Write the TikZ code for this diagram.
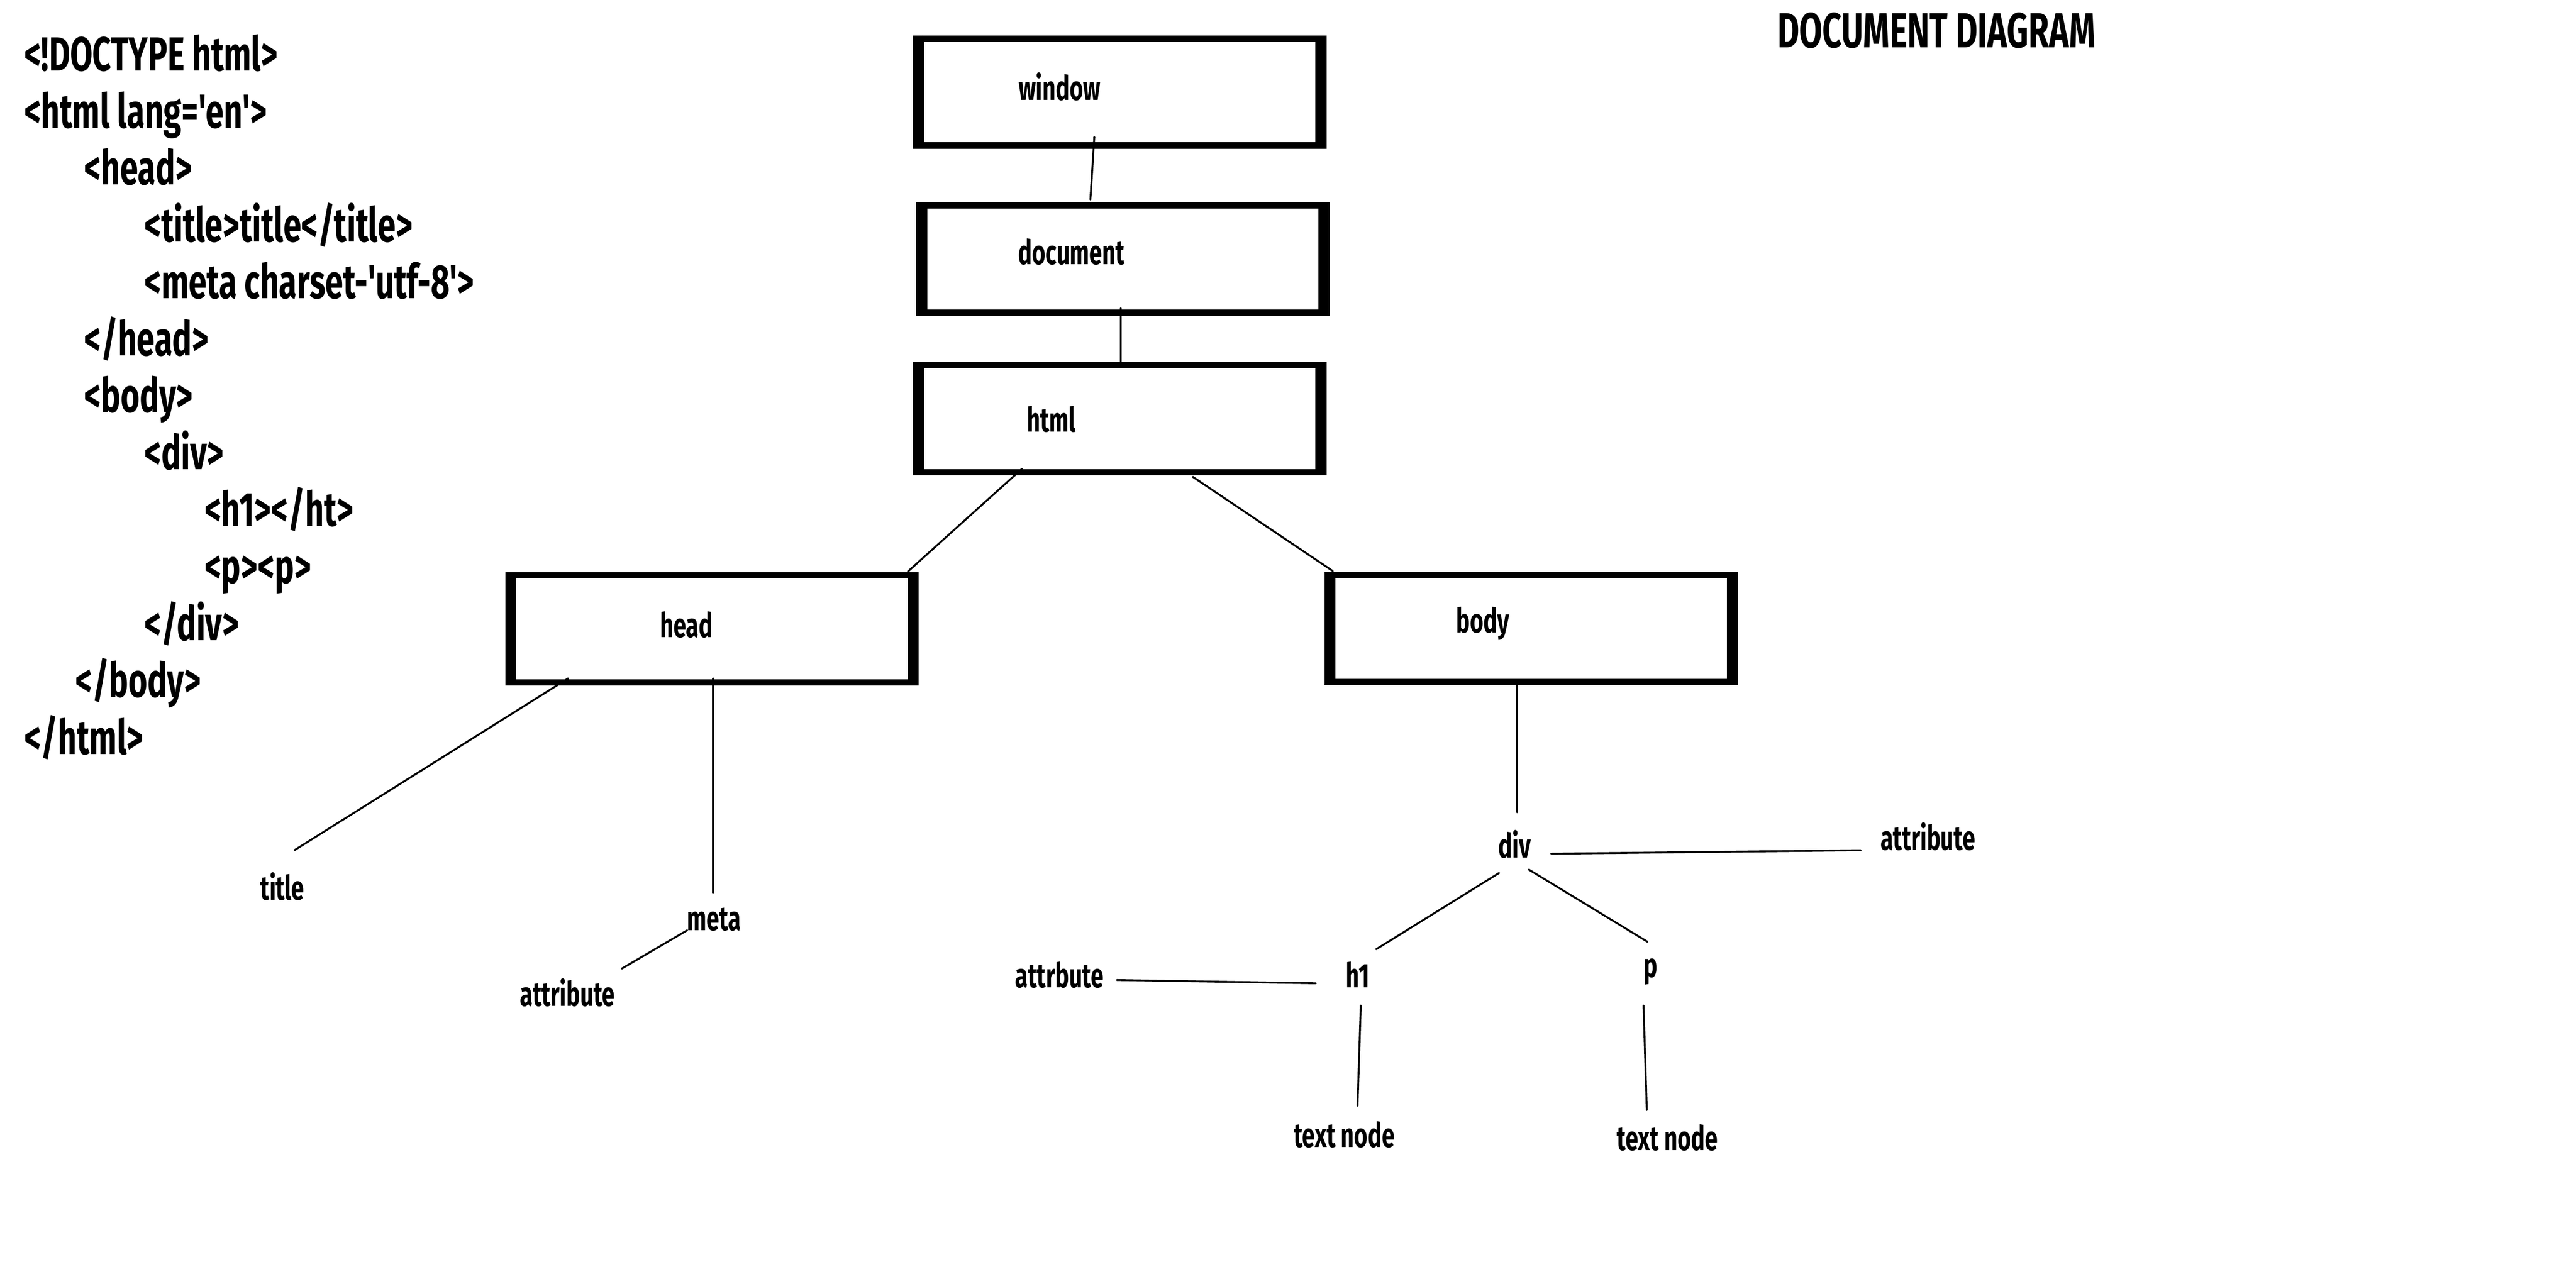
\documentclass[tikz,border=0pt]{standalone}
\usepackage{fontspec}
\setmainfont{Fira Sans}[FakeStretch=0.68, Ligatures=TeXOff]
\usetikzlibrary{calc}

\begin{document}
\begin{tikzpicture}[
        x=0.02cm, y=-0.02cm,
        domnode/.style={rectangle, draw, line width=0.076cm, minimum width=4.838cm, minimum height=1.304cm, inner sep=0pt},
        domside/.style={line width=0.122cm},
        boxtext/.style={font=\bfseries\fontsize{11.8}{14}\selectfont, inner sep=0pt, anchor=base},
        treetext/.style={font=\bfseries\fontsize{11.8}{14}\selectfont, inner sep=0pt, anchor=base},
        codeline/.style={font=\bfseries\fontsize{16.6}{19}\selectfont, inner sep=0pt, anchor=base west},
        link/.style={line width=0.65pt, line cap=round}
    ]
    \useasboundingbox (0,0) rectangle (1568,781.7);

    % Source listing
    \foreach \ind/\txt [count=\i from 0] in {14.4/{<!DOCTYPE html>}, 14.4/{<html lang='en'>},
            51/{<head>}, 87.6/{<title>title</title>}, 87.6/{<meta charset-'utf-8'>},
            51/{</head>}, 51/{<body>}, 87.6/{<div>}, 124.2/{<h1></ht>}, 124.2/{<p><p>},
            87.6/{</div>}, 45.5/{</body>}, 14.4/{</html>}}
        \node[codeline] (code\i) at (\ind, 43.1+34.67*\i) {\txt};

    \node[font=\bfseries\fontsize{17.1}{20}\selectfont, inner sep=0pt, anchor=base] (heading) at (1178.7,29) {DOCUMENT DIAGRAM};

    % Boxes
    \node[domnode] (window) at (681.5,56) {};
    \node[domnode] (document) at (683.5,157.7) {};
    \node[domnode] (html) at (681.5,255) {};
    \node[domnode] (head) at (433.4,382.8) {};
    \node[domnode] (body) at (932,382.7) {};
    \foreach \b in {window,document,html,head,body}
        \draw[domside] (\b.north west) -- (\b.south west) (\b.north east) -- (\b.south east);

    \node[boxtext] (window-t) at (645,61) {window};
    \node[boxtext] (document-t) at (652.2,161.1) {document};
    \node[boxtext] (html-t) at (640,263) {html};
    \node[boxtext] (head-t) at (417.9,388.2) {head};
    \node[boxtext] (body-t) at (902.5,385.2) {body};

    % Tree labels
    \node[treetext] (title) at (171.9,548) {title};
    \node[treetext] (meta) at (434.6,566.4) {meta};
    \node[treetext] (meta-attr) at (345.4,612.5) {attribute};
    \node[treetext] (div) at (921.9,522.4) {div};
    \node[treetext] (div-attr) at (1173.5,517.7) {attribute};
    \node[treetext] (h1-attr) at (644.9,601.3) {attrbute};
    \node[treetext] (h1) at (826.5,601.3) {h1};
    \node[treetext] (p) at (1004.8,594.9) {p};
    \node[treetext] (h1-text) at (818.2,698.5) {text node};
    \node[treetext] (p-text) at (1015,700.5) {text node};

    % Links
    \draw[link] ($(window)+(-15.4,27.4)$) -- ($(document)+(-19.8,-36.2)$);
    \draw[link] ($(document)+(-1.3,29.9)$) -- ($(html)+(0.7,-34)$);
    \draw[link] ($(html)+(-59.5,30.5)$) -- ($(head)+(119.2,-34.8)$);
    \draw[link] ($(html)+(44.5,35.3)$) -- ($(body)+(-120.7,-35)$);
    \draw[link] ($(head)+(-87.5,30.2)$) -- ($(title.base)+(7.4,-30.4)$);
    \draw[link] ($(head)+(0.6,30.2)$) -- ($(meta.base)+(-0.6,-22.8)$);
    \draw[link] ($(meta.base)+(-16.3,0)$) -- ($(meta-attr.base)+(33,-22.7)$);
    \draw[link] ($(body)+(-8.6,34.3)$) -- ($(div.base)+(1.5,-27.8)$);
    \draw[link] ($(div.base)+(22.3,-2.6)$) -- ($(div-attr.base)+(-40.9,0)$);
    \draw[link] ($(div.base)+(-9.4,9.1)$) -- ($(h1.base)+(11.1,-23.3)$);
    \draw[link] ($(div.base)+(8.6,7)$) -- ($(p.base)+(-2,-21.5)$);
    \draw[link] ($(h1.base)+(-25.5,-2.6)$) -- ($(h1-attr.base)+(34.9,-4.6)$);
    \draw[link] ($(h1.base)+(1.8,10.9)$) -- ($(h1-text.base)+(8.1,-25.2)$);
    \draw[link] ($(p.base)+(-4.4,17.3)$) -- ($(p-text.base)+(-12.6,-24.6)$);

\end{tikzpicture}
\end{document}
